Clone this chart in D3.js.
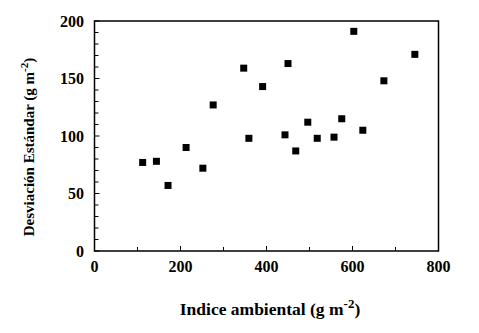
<!DOCTYPE html>
<html><head><meta charset="utf-8">
<script src="https://cdn.jsdelivr.net/npm/d3@7"></script>
<style>
html,body{margin:0;padding:0;background:#fff;}
svg{display:block;}
text{font-family:"Liberation Serif","Times New Roman",serif;font-weight:bold;fill:#000;}
</style></head>
<body>
<svg id="chart" width="479" height="333"></svg>
<script>
const indiceAmbiental = [112,144,171,213,252,276,347,359,391,443,450,468,496,518,557,575,603,624,673,745];
const desviacion      = [77, 78, 57, 90, 72,127,159, 98,143,101,163, 87,112, 98, 99,115,191,105,148,171];
const xTicks = [0,200,400,600,800];
const yTicks = [0,50,100,150,200];

const svg = d3.select("#chart");
const L = 94.5, R = 438.5, T = 21, B = 251;
const x = d3.scaleLinear().domain([0,800]).range([L,R]);
const y = d3.scaleLinear().domain([0,200]).range([B,T]);

// frame
svg.append("rect").attr("x",L).attr("y",T).attr("width",R-L).attr("height",B-T)
  .attr("fill","none").attr("stroke","#000").attr("stroke-width",1.5);

// y minor ticks
const yMinor = d3.range(0,201,10);
svg.append("g").selectAll("line").data(yMinor).join("line")
  .attr("x1",L).attr("x2",d=>L+(d%50===0?5:4))
  .attr("y1",d=>y(d)).attr("y2",d=>y(d)).attr("stroke","#000").attr("stroke-width",1);
// x ticks every 100
const xMinor = d3.range(0,801,100);
svg.append("g").selectAll("line").data(xMinor).join("line")
  .attr("x1",d=>x(d)).attr("x2",d=>x(d))
  .attr("y1",B).attr("y2",d=>B-(d%200===0?5:4)).attr("stroke","#000").attr("stroke-width",1);

// tick labels
svg.append("g").selectAll("text").data(yTicks).join("text")
  .attr("x",84).attr("y",d=>y(d)).attr("dy","0.35em").attr("text-anchor","end")
  .attr("font-size",16).text(d=>d);
svg.append("g").selectAll("text").data(xTicks).join("text")
  .attr("x",d=>x(d)).attr("y",266).attr("dy","0.35em").attr("text-anchor","middle")
  .attr("font-size",16).text(d=>d);

// axis titles
const xt = svg.append("text").attr("x",270).attr("y",315).attr("text-anchor","middle").attr("font-size",17.5);
xt.append("tspan").text("Indice ambiental (g  m");
xt.append("tspan").attr("dy",-7).attr("font-size",13).text("-2");
xt.append("tspan").attr("dy",7).text(")");

const yt = svg.append("text").attr("transform","translate(34,147) rotate(-90)").attr("text-anchor","middle").attr("font-size",15);
yt.append("tspan").text("Desviación Estándar (g m");
yt.append("tspan").attr("dy",-6).attr("font-size",11).text("-2");
yt.append("tspan").attr("dy",6).text(")");

// points
const s = 7;
svg.append("g").selectAll("rect").data(indiceAmbiental.map((v,i)=>[v,desviacion[i]])).join("rect")
  .attr("x",d=>x(d[0])-s/2).attr("y",d=>y(d[1])-s/2).attr("width",s).attr("height",s).attr("fill","#000");
</script>
</body></html>
